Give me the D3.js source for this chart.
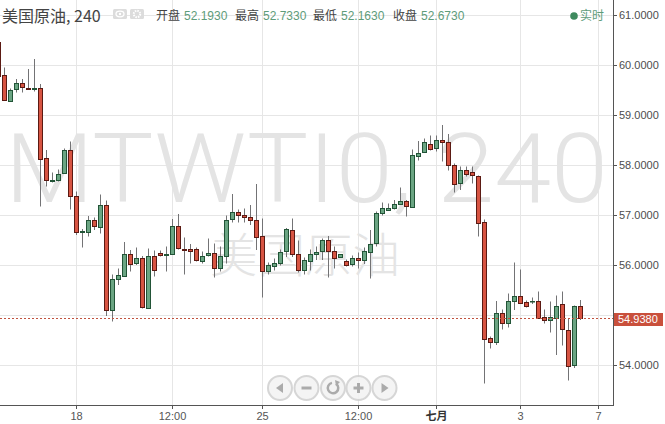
<!DOCTYPE html>
<html>
<head>
<meta charset="utf-8">
<script src="https://cdn.jsdelivr.net/npm/d3@7/dist/d3.min.js"></script>
<style>
  body { margin: 0; background: #fff; }
  svg { display: block; font-family: "Liberation Sans", Arial, sans-serif; }
</style>
</head>
<body>
<script>
// 4h candles (index 0 = leftmost, partly cut)
var openP  = [60.47,59.80,59.30,59.51,59.63,59.55,59.53,59.55,58.13,57.69,57.70,57.83,58.30,57.38,56.66,56.67,56.91,56.77,57.20,55.11,
              55.73,55.79,56.23,56.03,56.13,55.15,56.19,56.25,56.21,56.23,56.77,56.33,56.32,56.32,56.09,56.21,56.25,55.95,56.19,56.93,
              57.06,57.01,56.97,56.91,56.57,55.89,55.99,56.05,56.27,56.70,56.23,55.91,56.09,56.22,56.27,56.49,56.28,56.15,56.08,56.01,
              56.15,56.09,56.27,56.43,57.03,57.12,57.15,57.23,57.27,57.17,58.19,58.25,58.43,58.33,58.50,58.47,58.01,57.63,57.90,57.85,
              57.79,56.85,54.53,54.45,55.03,54.83,55.29,55.39,55.26,55.29,55.29,54.95,54.89,54.95,55.21,54.71,53.99,55.17];
var highP  = [60.55,59.95,59.53,59.72,59.72,59.92,60.12,59.62,58.30,57.85,57.91,58.33,58.47,57.47,56.72,56.98,56.95,57.41,57.29,55.81,
              55.93,56.46,56.30,56.35,56.18,56.33,56.29,56.29,56.37,56.92,57.02,56.55,56.42,56.35,56.27,56.53,56.43,56.37,56.99,57.42,
              57.11,57.13,57.20,57.62,56.93,56.05,56.13,56.31,56.74,56.93,56.49,56.15,56.31,56.37,56.53,56.58,56.37,56.21,56.11,56.19,
              56.25,56.35,56.70,57.07,57.25,57.23,57.30,57.55,57.30,58.31,58.48,58.53,58.59,58.59,58.80,58.62,58.03,57.97,57.97,57.97,
              57.79,56.91,54.57,55.28,55.11,55.43,56.05,55.91,55.29,55.35,55.47,55.11,55.27,55.39,55.47,54.93,55.19,55.30];
var lowP   = [59.75,59.28,59.29,59.45,59.45,59.50,59.47,57.17,57.57,57.65,57.67,57.83,57.11,56.60,56.35,56.57,56.70,56.63,54.98,54.87,
              55.60,55.77,55.87,56.00,55.13,55.15,55.77,56.17,55.87,56.22,56.31,55.81,56.03,56.07,56.03,56.17,55.75,55.87,56.03,56.85,
              56.85,56.85,56.80,56.30,55.35,55.81,55.89,55.99,56.16,56.16,55.85,55.81,55.89,56.10,56.10,55.75,55.93,56.15,55.97,55.97,
              55.93,56.02,55.73,56.37,56.99,57.11,57.11,57.21,56.97,57.17,58.09,58.25,58.29,58.27,58.07,57.89,57.45,57.50,57.77,57.63,
              56.57,53.63,54.33,54.40,54.71,54.75,55.10,55.23,55.15,55.22,54.95,54.83,54.65,54.20,54.39,53.69,53.94,54.90];
var closeP = [59.80,59.30,59.51,59.63,59.55,59.53,59.55,58.13,57.69,57.70,57.83,58.30,57.38,56.66,56.68,56.91,56.80,57.20,55.11,55.73,
              55.80,56.23,56.03,56.13,55.15,56.19,55.90,56.21,56.23,56.79,56.33,56.31,56.29,56.09,56.19,56.25,55.95,56.19,56.91,57.06,
              57.00,56.97,56.91,56.57,55.87,56.00,56.05,56.26,56.72,56.23,55.91,56.10,56.23,56.26,56.50,56.27,56.15,56.21,55.99,56.13,
              56.11,56.27,56.43,57.03,57.13,57.15,57.23,57.28,57.18,58.20,58.25,58.45,58.33,58.49,58.47,58.01,57.63,57.90,57.83,57.79,
              56.85,54.51,54.45,55.03,54.83,55.27,55.39,55.25,55.19,55.29,54.95,54.89,54.95,55.19,54.71,53.99,55.17,54.938];

var lastPrice = 54.938;
var priceTicks = [54, 55, 56, 57, 58, 59, 60, 61];
var timeTickIdx = [13, 29, 44, 60, 73, 87, 100];
var timeTickLabels = ["18", "12:00", "25", "12:00", "七月", "3", "7"];

var headerItems = [["开盘", "52.1930"], ["最高", "52.7330"], ["最低", "52.1630"], ["收盘", "52.6730"]];

var Width = 665, Height = 424;
var plotRight = 613, plotBottom = 405;

var upFill = "#6ba583", upLine = "#225437", downFill = "#d75442", downLine = "#5b1a13", wickCol = "#737375";

var svg = d3.select("body").append("svg")
  .attr("width", Width)
  .attr("height", Height);

var x = d3.scaleLinear().domain([0, 100]).range([-1.7, 598.3]);
var y = d3.scaleLinear().domain([54, 61]).range([365, 15]);

function px(i) { return Math.round(x(i)) + 0.5; }

// grid
svg.append("g").selectAll("line").data(priceTicks).enter().append("line")
  .attr("x1", 0).attr("x2", plotRight)
  .attr("y1", function(d) { return Math.round(y(d)) + 0.5; })
  .attr("y2", function(d) { return Math.round(y(d)) + 0.5; })
  .attr("stroke", "#e6e6e6");
svg.append("g").selectAll("line").data(timeTickIdx).enter().append("line")
  .attr("x1", function(d) { return px(d); }).attr("x2", function(d) { return px(d); })
  .attr("y1", 0).attr("y2", plotBottom)
  .attr("stroke", "#e6e6e6");

// watermark
svg.append("text")
  .attr("x", 5).attr("y", 202)
  .attr("textLength", 603).attr("lengthAdjust", "spacingAndGlyphs")
  .attr("font-family", "Roboto, 'Open Sans', sans-serif")
  .attr("font-weight", 300)
  .attr("font-size", 96)
  .attr("fill", "#e4e4e4")
  .text("MTWTI0, 240");
svg.append("text")
  .attr("x", 210).attr("y", 272)
  .attr("textLength", 190).attr("lengthAdjust", "spacingAndGlyphs")
  .attr("font-family", "'Noto Sans CJK SC', sans-serif")
  .attr("font-weight", 300)
  .attr("font-size", 47)
  .attr("fill", "#e4e4e4")
  .text("美国原油");

// candles
var idx = d3.range(openP.length);
var plot = svg.append("g");
plot.selectAll("line.wick").data(idx).enter().append("line")
  .attr("class", "wick")
  .attr("x1", function(i) { return px(i); }).attr("x2", function(i) { return px(i); })
  .attr("y1", function(i) { return y(highP[i]); })
  .attr("y2", function(i) { return y(lowP[i]); })
  .attr("stroke", wickCol);
plot.selectAll("rect.body").data(idx).enter().append("rect")
  .attr("class", "body")
  .attr("x", function(i) { return px(i) - 2; })
  .attr("width", 4)
  .attr("y", function(i) { return Math.round(y(Math.max(openP[i], closeP[i]))) + 0.5; })
  .attr("height", function(i) { return Math.max(0.5, Math.round(Math.abs(y(openP[i]) - y(closeP[i])))); })
  .attr("fill", function(i) { return closeP[i] >= openP[i] ? upFill : downFill; })
  .attr("stroke", function(i) { return closeP[i] >= openP[i] ? upLine : downLine; });

// last price line
var ly = Math.round(y(lastPrice)) + 0.5;
svg.append("line")
  .attr("x1", 0).attr("x2", plotRight).attr("y1", ly).attr("y2", ly)
  .attr("stroke", "#c0533f").attr("stroke-dasharray", "2,2");

// axes frame
svg.append("line").attr("x1", plotRight + 0.5).attr("x2", plotRight + 0.5).attr("y1", 0).attr("y2", plotBottom + 0.5)
  .attr("stroke", "#555");
svg.append("line").attr("x1", 0).attr("x2", plotRight + 1).attr("y1", plotBottom + 0.5).attr("y2", plotBottom + 0.5)
  .attr("stroke", "#555");

// price axis (label under the price tag is hidden, as in the original)
var yAxis = svg.append("g");
yAxis.selectAll("line").data(priceTicks).enter().append("line")
  .attr("x1", plotRight).attr("x2", plotRight + 4)
  .attr("y1", function(d) { return Math.round(y(d)) + 0.5; })
  .attr("y2", function(d) { return Math.round(y(d)) + 0.5; })
  .attr("stroke", "#555");
yAxis.selectAll("text").data(priceTicks.filter(function(d) { return Math.abs(y(d) - ly) > 12; }))
  .enter().append("text")
  .attr("x", plotRight + 6)
  .attr("y", function(d) { return y(d); })
  .attr("dy", "0.35em")
  .attr("font-size", 11)
  .attr("fill", "#4d4d4d")
  .text(d3.format(".4f"));

// last price tag
svg.append("rect")
  .attr("x", plotRight + 1).attr("y", ly - 5.5).attr("width", 49).attr("height", 13)
  .attr("fill", "#c9503c");
svg.append("text")
  .attr("x", plotRight + 5).attr("y", ly + 1).attr("dy", "0.35em")
  .attr("font-size", 11).attr("fill", "#fff")
  .text(d3.format(".4f")(lastPrice));

// time axis
var xAxis = svg.append("g");
xAxis.selectAll("line").data(timeTickIdx).enter().append("line")
  .attr("x1", function(d) { return px(d); }).attr("x2", function(d) { return px(d); })
  .attr("y1", plotBottom).attr("y2", plotBottom + 4)
  .attr("stroke", "#555");
xAxis.selectAll("text").data(timeTickIdx).enter().append("text")
  .attr("x", function(d) { return px(d); })
  .attr("y", 416)
  .attr("dy", "0.35em")
  .attr("text-anchor", "middle")
  .attr("font-size", 11)
  .attr("font-weight", function(d, i) { return timeTickLabels[i] === "七月" ? "bold" : "normal"; })
  .attr("font-family", function(d, i) { return timeTickLabels[i] === "七月" ? "'Noto Sans CJK SC', sans-serif" : null; })
  .attr("fill", function(d, i) { return timeTickLabels[i] === "七月" ? "#333" : "#555"; })
  .text(function(d, i) { return timeTickLabels[i]; });

// header
var head = svg.append("g").attr("font-family", "'Noto Sans CJK SC', 'Liberation Sans', sans-serif");
head.append("text").attr("x", 2).attr("y", 22).attr("font-size", 16).attr("fill", "#444")
  .text("美国原油, 240");
head.append("rect").attr("x", 113).attr("y", 9).attr("width", 14).attr("height", 10).attr("rx", 1.5).attr("fill", "#dcdcdc");
head.append("ellipse").attr("cx", 120).attr("cy", 14).attr("rx", 4).attr("ry", 2.8).attr("fill", "none").attr("stroke", "#fff").attr("stroke-width", 1.3);
head.append("circle").attr("cx", 120).attr("cy", 14).attr("r", 1.2).attr("fill", "#fff");
head.append("rect").attr("x", 130).attr("y", 9).attr("width", 14).attr("height", 10).attr("rx", 1.5).attr("fill", "#dcdcdc");
head.append("circle").attr("cx", 137).attr("cy", 14).attr("r", 3.2).attr("fill", "none").attr("stroke", "#fff").attr("stroke-width", 2).attr("stroke-dasharray", "1.5,1");
var hx = [156, 235, 313, 393];
headerItems.forEach(function(d, i) {
  head.append("text").attr("x", hx[i]).attr("y", 20).attr("font-size", 12).attr("fill", "#444").text(d[0]);
  head.append("text").attr("x", hx[i] + 28).attr("y", 20).attr("font-size", 12)
    .attr("font-family", "'Liberation Sans', Arial, sans-serif").attr("fill", "#5e9c7a").text(d[1]);
});
head.append("circle").attr("cx", 574).attr("cy", 16).attr("r", 3.8).attr("fill", "#3e8a5e");
head.append("text").attr("x", 580).attr("y", 20).attr("font-size", 12).attr("fill", "#5e9c7a").text("实时");

// navigation buttons
var nav = svg.append("g").attr("opacity", 0.9);
var navX = [280, 306.5, 333, 358.5, 384.5], navY = 388;
nav.selectAll("circle").data(navX).enter().append("circle")
  .attr("cx", function(d) { return d; }).attr("cy", navY).attr("r", 12)
  .attr("fill", "#f3f3f3").attr("stroke", "#d2d2d2").attr("stroke-width", 2);
var ic = "#a3a3a3";
nav.append("path").attr("d", "M" + (navX[0] + 3) + "," + (navY - 5) + "L" + (navX[0] - 4) + "," + navY + "L" + (navX[0] + 3) + "," + (navY + 5) + "Z").attr("fill", ic);
nav.append("rect").attr("x", navX[1] - 5).attr("y", navY - 1.5).attr("width", 10).attr("height", 3).attr("fill", ic);
nav.append("path").attr("d", d3.arc()({ innerRadius: 4, outerRadius: 6.5, startAngle: 0.6, endAngle: 2 * Math.PI - 0.2 }))
  .attr("transform", "translate(" + navX[2] + "," + navY + ")").attr("fill", ic);
nav.append("path").attr("d", "M" + (navX[2] + 2) + "," + (navY - 8) + "L" + (navX[2] + 7) + "," + (navY - 6) + "L" + (navX[2] + 3) + "," + (navY - 2) + "Z").attr("fill", ic);
nav.append("rect").attr("x", navX[3] - 5).attr("y", navY - 1.5).attr("width", 10).attr("height", 3).attr("fill", ic);
nav.append("rect").attr("x", navX[3] - 1.5).attr("y", navY - 5).attr("width", 3).attr("height", 10).attr("fill", ic);
nav.append("path").attr("d", "M" + (navX[4] - 3) + "," + (navY - 5) + "L" + (navX[4] + 4) + "," + navY + "L" + (navX[4] - 3) + "," + (navY + 5) + "Z").attr("fill", ic);
</script>
</body>
</html>
